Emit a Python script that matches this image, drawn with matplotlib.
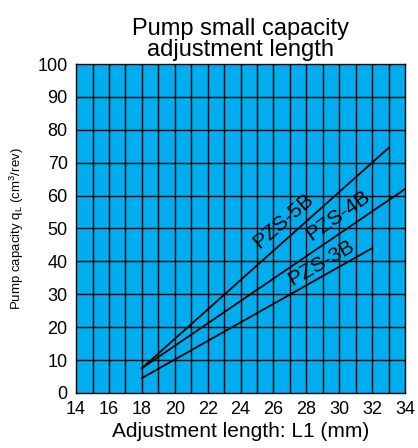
import matplotlib
matplotlib.use("Agg")
from matplotlib import pyplot as plt

plt.rcParams['font.family'] = ['Liberation Sans', 'DejaVu Sans']
plt.rcParams['mathtext.fontset'] = 'custom'
plt.rcParams['mathtext.rm'] = 'Liberation Sans'

# line end points (L1 mm, capacity cm3/rev)
models = ['PZS-5B', 'PZS-4B', 'PZS-3B']
x_start = [18, 18, 18]
y_start = [7.5, 7.5, 4.5]
x_end = [33, 34, 32]
y_end = [74.5, 62, 44]

# label centres and rotation
label_x = [26.6, 29.9, 28.9]
label_y = [52.3, 53.8, 39.6]
label_rot = [41, 35, 30]

fig = plt.figure(figsize=(4.18, 4.48), dpi=100)
ax = fig.add_axes([0.182, 0.123, 0.787, 0.734])
ax.set_facecolor('#00AEEF')

ax.set_xlim(14, 34)
ax.set_ylim(0, 100)
ax.set_xticks(range(14, 35, 2))
ax.set_yticks(range(0, 101, 10))

# grid: every mm vertically, every 10 horizontally
for x in range(15, 34):
    ax.axvline(x, color='black', lw=1, zorder=1)
for y in range(10, 100, 10):
    ax.axhline(y, color='black', lw=1, zorder=1)

for i in range(len(models)):
    ax.plot([x_start[i], x_end[i]], [y_start[i], y_end[i]], color='black', lw=1.3, zorder=3)
    ax.text(label_x[i], label_y[i], models[i], rotation=label_rot[i], fontsize=15,
            ha='center', va='center', rotation_mode='anchor', zorder=4)

ax.tick_params(axis='both', which='both', direction='in', length=0, labelsize=13, pad=6)
for s in ax.spines.values():
    s.set_linewidth(1)

ax.set_xlabel('Adjustment length: L1 (mm)', fontsize=15, labelpad=3)
ax.set_ylabel(r'Pump capacity q$_\mathregular{L}$ (cm$^\mathregular{3}$/rev)', fontsize=9.5, labelpad=8)
ax.set_title('Pump small capacity\nadjustment length', fontsize=17, linespacing=0.95, pad=6)

fig.savefig('out.png', dpi=100)
